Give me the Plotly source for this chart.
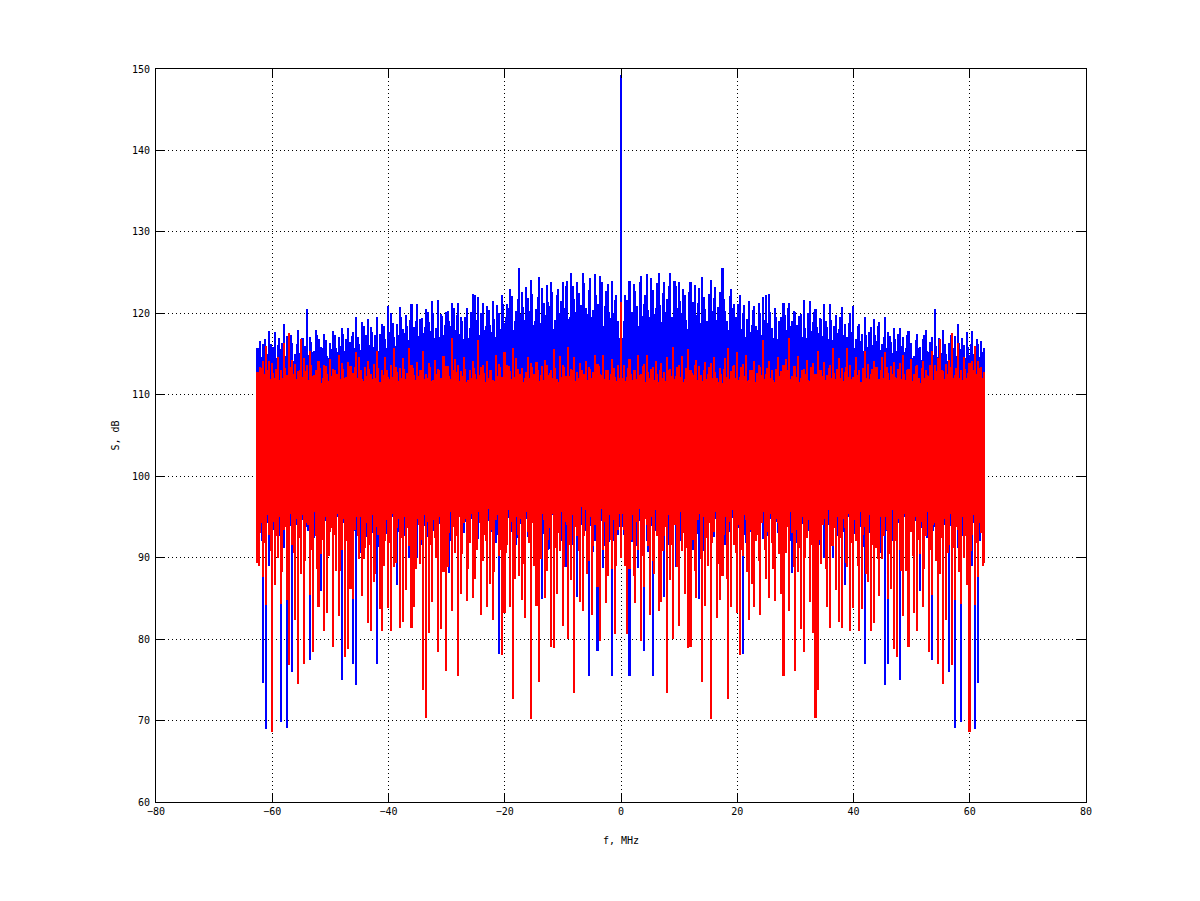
import plotly.graph_objects as go

# half spectrum, f = 0 .. 62.5 MHz step 0.25 (spectrum is mirror-symmetric about 0)
f_half = [i * 0.25 for i in range(251)]

blue_hi = [
    149.3, 117.0, 119.1, 122.3, 121.6, 120.1, 124.0, 119.4, 120.2, 123.6,
    122.7, 120.9, 118.4, 123.9, 124.6, 119.7, 121.1, 122.2, 124.8, 120.4,
    119.5, 124.3, 122.9, 119.9, 120.6, 123.7, 125.0, 121.0, 118.9, 122.5,
    123.9, 120.2, 121.8, 123.3, 125.0, 119.6, 119.3, 124.0, 123.4, 120.7,
    123.9, 121.5, 120.0, 123.0, 122.2, 119.2, 118.1, 122.6, 123.9, 120.9,
    121.4, 123.5, 119.8, 121.3, 123.1, 118.8, 124.5, 122.0, 120.5, 119.1,
    118.6, 122.4, 124.1, 120.3, 121.9, 123.2, 119.2, 120.8, 122.6, 119.9,
    125.6, 121.7, 120.3, 119.0, 118.0, 122.1, 123.0, 120.6, 121.2, 119.5,
    118.8, 121.2, 122.2, 118.1, 120.0, 121.0, 117.1, 119.3, 121.5, 117.7,
    118.6, 120.4, 120.9, 118.5, 117.9, 121.3, 120.1, 117.4, 122.0, 119.2,
    122.3, 118.8, 122.4, 120.2, 118.2, 117.0, 120.7, 119.5, 116.8, 119.1,
    119.6, 117.5, 121.3, 119.8, 118.0, 120.6, 121.3, 118.4, 119.1, 120.3,
    120.2, 118.6, 117.4, 119.7, 119.9, 117.1, 121.6, 118.2, 117.0, 120.1,
    121.5, 117.8, 118.9, 120.2, 120.5, 118.3, 117.6, 119.4, 119.3, 117.2,
    121.2, 119.0, 118.3, 116.9, 121.2, 119.2, 116.7, 118.5, 119.8, 117.6,
    118.1, 119.5, 120.8, 117.4, 118.7, 116.0, 117.1, 118.8, 120.0, 117.7,
    120.9, 115.8, 116.8, 118.4, 118.7, 116.6, 117.5, 115.4, 119.5, 117.3,
    115.9, 117.7, 118.3, 116.1, 119.3, 117.4, 116.6, 118.5, 118.9, 115.5,
    116.2, 117.1, 119.5, 115.7, 117.7, 117.2, 116.5, 115.1, 118.2, 116.8,
    115.4, 117.5, 118.2, 116.0, 117.1, 115.2, 115.8, 117.4, 117.8, 115.6,
    116.4, 114.5, 114.8, 116.7, 117.5, 115.8, 115.9, 114.3, 116.8, 117.3,
    118.0, 115.4, 115.2, 116.5, 117.1, 114.9, 120.5, 116.0, 114.6, 117.0,
    116.9, 115.1, 118.0, 116.2, 115.0, 114.2, 116.3, 117.4, 114.4, 115.7,
    117.2, 114.8, 118.7, 116.4, 115.6, 117.0, 116.1, 114.5, 117.7, 115.9,
    114.9, 116.2, 117.8, 115.0, 115.4, 116.8, 116.2, 114.7, 116.6, 115.3,
    115.8,
]
blue_lo = [
    94.5, 93.8, 92.8, 94.9, 95.2, 92.1, 75.5, 94.3, 91.9, 95.0,
    93.6, 91.4, 88.7, 94.5, 94.8, 93.0, 78.6, 95.3, 92.1, 90.7,
    95.0, 93.9, 75.5, 92.6, 93.3, 95.1, 90.6, 94.0, 94.9, 92.3,
    85.2, 94.6, 92.7, 91.5, 95.4, 93.2, 91.2, 94.8, 88.8, 93.4,
    93.9, 92.0, 95.1, 94.2, 87.6, 93.7, 92.4, 95.2, 94.3, 91.1,
    91.0, 94.4, 95.5, 92.9, 84.9, 94.0, 93.1, 90.8, 94.6, 93.5,
    90.9, 95.2, 94.0, 92.2, 92.5, 94.7, 95.3, 93.3, 89.4, 94.1,
    93.7, 92.4, 91.6, 95.0, 94.4, 93.1, 86.1, 94.9, 92.9, 91.7,
    95.0, 93.6, 93.2, 94.3, 78.2, 92.8, 91.8, 95.1, 94.7, 93.2,
    89.5, 94.5, 93.4, 92.1, 95.2, 93.9, 88.2, 94.2, 92.3, 95.0,
    94.1, 92.6, 91.3, 94.8, 95.6, 93.0, 85.7, 94.4, 93.0, 91.9,
    94.5, 95.1, 90.4, 93.5, 92.8, 94.6, 95.1, 92.0, 88.1, 94.3,
    93.5, 91.8, 94.9, 93.7, 87.3, 94.1, 92.2, 95.0, 95.4, 93.3,
    91.1, 94.7, 93.8, 92.5, 84.2, 93.9, 94.3, 91.6, 92.6, 95.2,
    90.0, 93.4, 95.0, 94.0, 93.4, 91.9, 89.9, 94.5, 94.2, 92.7,
    92.0, 94.8, 95.3, 93.1, 86.6, 92.3, 93.1, 95.0, 91.5, 94.1,
    94.8, 92.9, 92.7, 94.6, 88.5, 93.8, 93.9, 91.3, 77.0, 94.4,
    95.2, 93.0, 91.8, 94.9, 83.4, 92.5, 94.0, 93.7, 92.5, 90.6,
    90.3, 94.2, 74.4, 93.3, 77.0, 94.7, 93.6, 92.0, 95.1, 93.8,
    88.6, 94.3, 75.0, 92.8, 92.0, 95.0, 94.4, 93.2, 87.8, 94.0,
    93.3, 91.6, 91.7, 94.5, 95.0, 92.9, 85.9, 93.6, 92.9, 95.1,
    94.2, 92.4, 89.1, 94.8, 77.4, 93.3, 93.8, 92.1, 91.4, 94.6,
    95.2, 93.5, 88.9, 94.0, 92.6, 91.2, 76.0, 93.9, 94.3, 92.8,
    69.1, 94.1, 91.2, 93.0, 69.8, 92.6, 93.7, 94.9, 90.1, 93.4,
    94.6, 92.2, 89.0, 94.3, 69.0, 93.1, 74.6, 92.0, 93.4, 94.7,
    92.2,
]
red_hi = [
    121.4, 112.0, 113.6, 111.7, 112.2, 113.3, 114.4, 112.6, 111.8, 113.0,
    113.1, 111.9, 114.9, 112.4, 112.5, 113.5, 113.8, 111.6, 114.9, 112.8,
    112.0, 113.2, 113.4, 111.8, 114.2, 112.5, 111.6, 113.0, 113.9, 112.1,
    112.8, 111.7, 114.6, 113.1, 113.2, 112.3, 115.9, 111.9, 112.3, 113.4,
    113.7, 112.2, 114.8, 111.6, 111.9, 113.3, 115.6, 112.0, 113.0, 112.7,
    112.4, 113.6, 114.3, 111.8, 113.5, 112.4, 111.7, 113.1, 114.0, 111.9,
    112.6, 113.4, 113.9, 112.0, 114.7, 112.8, 112.1, 111.6, 113.3, 112.5,
    111.5, 113.2, 114.5, 112.2, 115.8, 111.9, 112.9, 113.5, 113.6, 112.0,
    115.2, 111.8, 112.2, 113.4, 113.8, 112.3, 114.9, 111.7, 111.8, 113.1,
    113.1, 112.1, 114.2, 111.6, 112.7, 113.6, 113.4, 112.4, 116.7, 111.9,
    112.5, 113.3, 114.1, 112.0, 113.0, 111.8, 111.6, 113.2, 114.6, 112.3,
    112.9, 111.7, 113.7, 112.8, 114.4, 113.0, 117.0, 111.9, 112.3, 113.5,
    113.5, 112.2, 114.8, 111.6, 112.0, 113.1, 113.2, 112.5, 114.3, 111.8,
    111.7, 113.4, 113.9, 112.1, 112.6, 111.9, 115.4, 113.0, 113.1, 112.3,
    114.0, 111.8, 112.4, 113.3, 113.6, 112.0, 115.8, 112.7, 111.9, 113.2,
    114.5, 112.1, 113.3, 111.7, 112.8, 113.4, 115.8, 112.2, 113.7, 111.9,
    112.2, 113.0, 114.6, 112.4, 113.0, 111.6, 111.6, 113.3, 115.4, 112.0,
    113.8, 111.9, 112.5, 113.2, 114.2, 112.3, 113.4, 111.7, 111.9, 113.1,
    114.7, 112.0, 115.2, 113.4, 112.7, 111.8, 113.5, 112.6, 114.0, 112.2,
    112.1, 113.2, 113.9, 111.9, 114.9, 112.5, 111.8, 113.0, 113.2, 112.3,
    114.4, 111.7, 112.6, 113.5, 113.7, 112.1, 111.5, 113.3, 114.1, 112.0,
    113.0, 112.4, 112.3, 113.6, 115.4, 111.8, 113.6, 112.9, 114.5, 112.2,
    116.8, 113.1, 112.9, 111.9, 113.8, 112.6, 114.3, 113.4, 117.6, 112.0,
    112.4, 113.3, 116.4, 112.1, 113.1, 111.8, 114.6, 113.2, 112.0, 112.7,
    113.9, 111.9, 114.2, 113.0, 116.0, 112.5, 114.2, 113.3, 113.4, 112.1,
    112.8,
]
red_lo = [
    90.0, 95.4, 93.4, 89.0, 80.6, 94.6, 88.6, 92.2, 95.2, 87.8,
    84.4, 94.4, 91.0, 96.0, 79.8, 90.2, 86.4, 94.8, 94.0, 91.4,
    82.9, 95.0, 89.6, 88.0, 95.8, 92.6, 83.4, 96.2, 84.5, 90.8,
    92.6, 93.8, 73.4, 95.2, 87.2, 91.6, 80.0, 94.0, 94.4, 88.8,
    81.6, 95.6, 90.8, 93.0, 85.6, 91.2, 78.9, 95.4, 79.0, 93.6,
    92.2, 88.4, 85.0, 94.6, 95.4, 89.8, 74.7, 95.0, 84.1, 92.4,
    89.0, 94.2, 70.2, 91.8, 93.2, 95.6, 82.6, 89.2, 84.8, 94.8,
    87.8, 92.8, 95.0, 87.4, 72.7, 94.4, 84.0, 95.8, 91.6, 90.6,
    83.2, 94.0, 78.0, 91.0, 90.2, 95.2, 94.6, 88.2, 82.3, 93.4,
    86.8, 96.0, 83.9, 92.0, 92.8, 89.6, 83.0, 94.2, 95.6, 91.0,
    87.4, 93.2, 85.0, 95.4, 91.8, 88.6, 84.7, 94.8, 94.2, 90.4,
    85.6, 95.0, 75.5, 92.6, 90.6, 93.8, 83.5, 95.6, 93.0, 88.8,
    76.1, 93.4, 88.2, 91.2, 81.2, 95.0, 78.4, 90.0, 92.4, 94.6,
    84.6, 91.6, 80.7, 94.4, 70.3, 95.2, 73.7, 92.2, 89.2, 94.0,
    94.8, 88.6, 84.0, 95.8, 81.4, 91.4, 91.4, 93.6, 86.0, 95.0,
    82.1, 92.4, 81.4, 94.8, 93.6, 89.4, 88.8, 95.4, 81.0, 91.8,
    83.8, 94.6, 92.0, 89.0, 81.0, 95.6, 83.7, 92.8, 93.8, 88.0,
    87.0, 95.2, 81.0, 91.6, 82.0, 94.2, 91.2, 89.8, 85.3, 95.0,
    89.8, 92.6, 95.0, 93.4, 84.9, 90.4, 86.2, 95.8, 78.8, 92.0,
    77.8, 94.8, 91.0, 88.4, 82.8, 95.4, 88.4, 92.8, 79.0, 93.6,
    93.2, 90.2, 83.2, 95.0, 81.0, 92.2, 90.4, 94.4, 83.9, 88.6,
    92.6, 95.6, 78.4, 91.0, 85.4, 94.0, 94.2, 89.6, 77.0, 95.2,
    88.0, 92.4, 74.5, 94.8, 82.4, 90.6, 91.6, 95.4, 76.8, 91.2,
    84.8, 93.8, 93.4, 88.2, 84.3, 95.0, 90.0, 92.6, 86.6, 94.4,
    68.6, 90.8, 92.8, 95.2, 84.2, 91.8, 87.6, 94.2, 93.0, 89.0,
    89.4,
]


def mirror(vals):
    return vals[:0:-1] + vals


f = [-v for v in f_half[:0:-1]] + f_half

fig = go.Figure()
for hi, lo, col in [(blue_hi, blue_lo, '#0000ff'), (red_hi, red_lo, '#ff0000')]:
    hi_full = mirror(hi)
    lo_full = mirror(lo)
    fig.add_trace(go.Bar(
        x=f,
        y=[h - l for h, l in zip(hi_full, lo_full)],
        base=lo_full,
        width=0.27,
        marker=dict(color=col, line=dict(width=0)),
        opacity=1,
        showlegend=False,
    ))

axis_style = dict(
    showline=True, linecolor='black', linewidth=1, mirror='ticks',
    ticks='inside', ticklen=9, tickcolor='black', tickwidth=1,
    showgrid=True, gridcolor='black', gridwidth=1, griddash='1px,3px',
    zeroline=False,
    tickfont=dict(family='DejaVu Sans Mono', size=10, color='black'),
)
fig.update_xaxes(range=[-80, 80], dtick=20, tick0=0, **axis_style)
fig.update_yaxes(range=[60, 150], dtick=10, tick0=0, ticklabelstandoff=3, **axis_style)

label_font = dict(family='DejaVu Sans Mono', size=10, color='black')
fig.update_layout(
    width=1192, height=893,
    margin=dict(l=148, r=114, t=61, b=99),
    paper_bgcolor='white', plot_bgcolor='white',
    barmode='overlay', bargap=0,
    annotations=[
        dict(text='f, MHz', xref='paper', yref='paper', x=0.5, y=-0.052,
             xanchor='center', yanchor='middle', showarrow=False, font=label_font),
        dict(text='S, dB', xref='paper', yref='paper', x=-0.044, y=0.5, textangle=-90,
             xanchor='center', yanchor='middle', showarrow=False, font=label_font),
    ],
)

fig.write_html("out.html")
